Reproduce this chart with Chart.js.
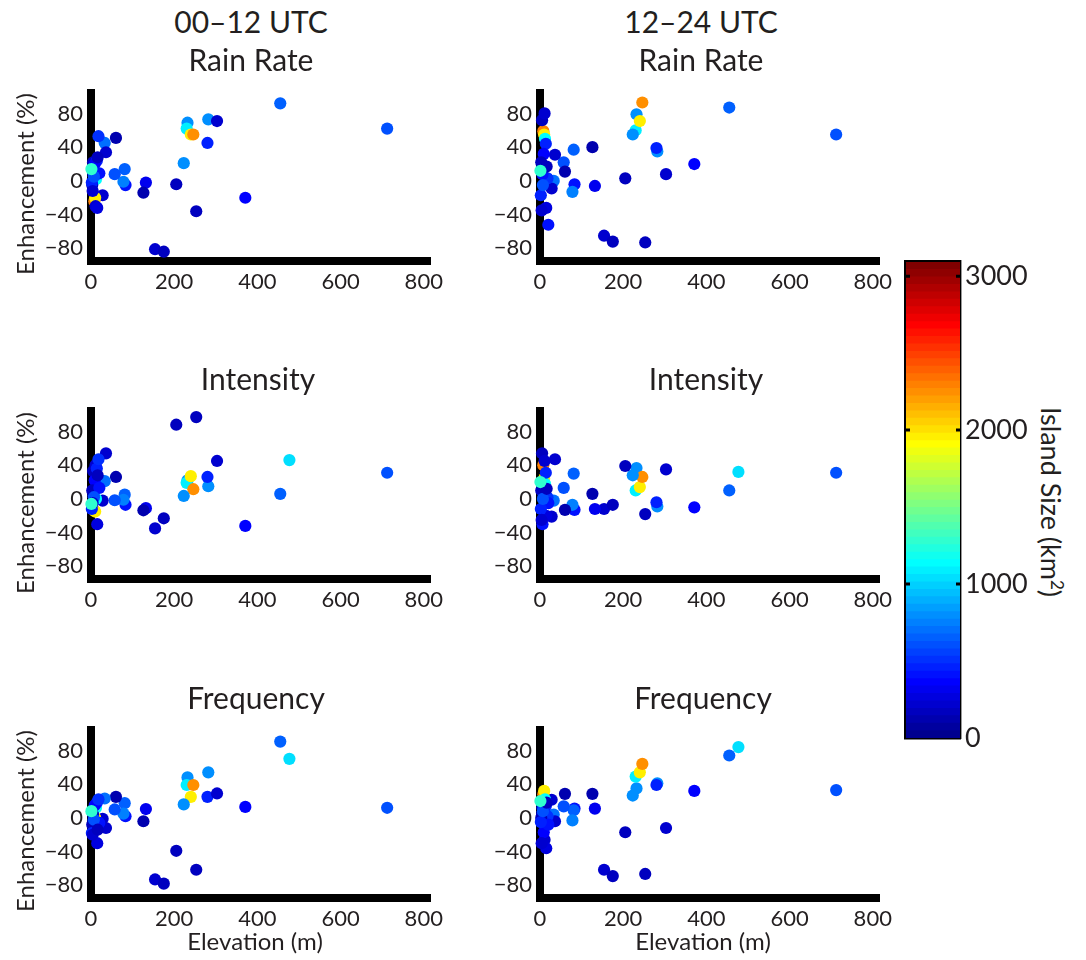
<!DOCTYPE html>
<html>
<head>
<meta charset="utf-8">
<script src="https://cdn.jsdelivr.net/npm/chart.js@4.4.1/dist/chart.umd.min.js"></script>
<style>
  body { margin: 0; background: #fff; }
  #page { position: relative; width: 1086px; height: 960px; overflow: hidden; font-family: Lato, "Open Sans", sans-serif; color: #231f20; }
  canvas { position: absolute; }
  .txt { position: absolute; white-space: nowrap; line-height: 1; }
  .title { font-size: 30px; transform: translateX(-50%); }
  .axis { font-size: 24px; transform: translateX(-50%); }
  .ylab { font-size: 24px; transform: translate(-50%, -50%) rotate(-90deg); }
  .cblab { font-size: 27px; transform: translate(-50%, -50%) rotate(90deg); }
  .cblab sup { font-size: 17px; }
</style>
</head>
<body>
<div id="page"></div>
<script>
// islands: elevation (m) and area (km2)
const islandElevation = [455, 477, 712, 232, 230, 240, 246, 282, 280, 303, 223, 205, 253, 371, 154, 175, 132, 126, 83, 81, 78, 57, 60, 33, 36, 28,
  8, 10, 12, 5, 11, 14, 9, 18, 6, 15, 3, 20, 2, 7, 4, 16, 1];
const islandSize = [650, 1060, 590, 820, 1090, 1945, 2255, 820, 470, 195, 790, 155, 155, 350, 195, 170, 335, 115, 430, 650, 760, 620, 115, 700, 230, 195,
  2300, 1950, 1150, 150, 200, 450, 380, 500, 400, 250, 180, 420, 450, 600, 220, 160, 1300];

// enhancement (%) per island, one list per panel
const rainRate0012 = [92, null, 62, 69, 62, 55, 55, 73, 45, 71, 21, -4, -36, -20, -81, -84, -2, -14, -5, 14, -1, 8, 51, 45, 34, -17,
  -24, -20, 2, 22, -30, 24, 20, 53, 8, -32, -5, 9, -2, 5, -12, 28, 14];
const rainRate1224 = [87, null, 55, 79, 60, 71, 93, 35, 39, 8, 55, 3, -73, 20, -65, -72, -6, 40, -4, 37, -13, 22, 11, 0, 31, -9,
  59, 55, 50, 72, 80, 44, 32, 3, 8, -32, 22, -52, -17, -5, -35, 17, 12];
const intensity0012 = [6, 46, 31, 22, 19, 27, 11.5, 15, 26, 45, 3.5, 88, 97, -32, -35, -23, -11, -13.5, -7, 5, -1, -1.6, 26, 21, 54, -2,
  -14, -15, 0, 33, 40, 36, 22, 47, 4, -30, 10, 13, -12, 2, -5, 28, -6];
const intensity1224 = [10, 32, 31, 36.5, 10, 14, 26, -9, -4, 35, 28, 39, -18, -10, -12, -7, -12, 6, -13, 30, -7, 13, -13, -2, 47, -21,
  40, 24, 18, 54, 45, 31, 5, 2, -30, -20, 10, -5, -12, 0, -25, 12, 20];
const frequency0012 = [90.5, 70, 12, 48, 39, 25, 39, 54, 25, 29, 16, -39, -61.5, 13, -73, -78, 10.5, -4, 2, 17.5, 5, 10, 25, 23, -12, -1,
  -10, 0, 12, 4, -12, 18, 15, 22, -3, -30, -8, -6, -18, -2, -20, -14, 8];
const frequency1224 = [74, 84, 33, 35, 49, 54, 64, 41, 39, -12, 26.5, -17, -66.5, 32, -61.5, -69, 11, 28.5, 11, 9, -3, 13.7, 28.5, 4, -4, 21.5,
  28, 32, 22, 5, -26, 14, -17, 2, 12, -36, 0, -8, -5, 8, -30, 18, 20];

const xTicks = [0, 200, 400, 600, 800];
const yTicks = [-80, -40, 0, 40, 80];
const sizeTicks = [0, 1000, 2000, 3000];
const sizeMax = 3092;

const ink = '#231f20';
const page = document.getElementById('page');

// MATLAB jet(64)
function jet(k) {
  const i = k + 1;
  const u = j => j <= 16 ? j / 16 : j <= 31 ? 1 : (48 - j) / 16;
  const r = i >= 25 ? u(i - 24) : 0;
  const g = i >= 9 && i <= 55 ? u(i - 8) : 0;
  const b = i <= 39 ? u(i + 8) : 0;
  return `rgb(${Math.round(r * 255)},${Math.round(g * 255)},${Math.round(b * 255)})`;
}
const sizeColor = s => jet(Math.min(63, Math.floor(s / sizeMax * 64)));

function addText(cls, html, left, top) {
  const d = document.createElement('div');
  d.className = 'txt ' + cls;
  d.innerHTML = html;
  d.style.left = left + 'px';
  d.style.top = top + 'px';
  page.appendChild(d);
}

function addCanvas(left, top, w, h) {
  const c = document.createElement('canvas');
  c.width = w; c.height = h;
  c.style.left = left + 'px';
  c.style.top = top + 'px';
  page.appendChild(c);
  return c;
}

// plot geometry
const colLeft = [91, 540];
const rowTop = [92, 410, 729];
const plotW = 339, plotH = 169;
const yAxisW = 91, xAxisH = 40, padTop = 20, padRight = 26;

const tickFont = { family: 'Lato', size: 22 };

function panel(values, col, row) {
  const idx = values.map((v, i) => i).filter(i => values[i] !== null);
  const points = idx.map(i => ({ x: islandElevation[i], y: values[i] }));
  const colors = idx.map(i => sizeColor(islandSize[i]));
  const canvas = addCanvas(colLeft[col] - yAxisW, rowTop[row] - padTop, yAxisW + plotW + padRight, padTop + plotH + xAxisH);
  new Chart(canvas.getContext('2d'), {
    type: 'scatter',
    data: {
      datasets: [{
        data: points,
        backgroundColor: colors,
        pointRadius: 6.1,
        pointHoverRadius: 6.1,
        pointBorderWidth: 0,
        clip: 6
      }]
    },
    options: {
      responsive: false,
      animation: false,
      events: [],
      layout: { padding: { top: padTop, right: padRight, left: 0, bottom: 0 } },
      plugins: { legend: { display: false }, tooltip: { enabled: false } },
      scales: {
        x: {
          type: 'linear', min: 0, max: 815,
          afterBuildTicks: s => { s.ticks = xTicks.map(v => ({ value: v })); },
          afterFit: s => { s.height = xAxisH; },
          grid: { display: false, drawTicks: false },
          border: { display: true, width: 8, color: '#000' },
          ticks: { color: ink, font: tickFont, padding: 8, maxRotation: 0, autoSkip: false }
        },
        y: {
          type: 'linear', min: -95, max: 104,
          afterBuildTicks: s => { s.ticks = yTicks.map(v => ({ value: v })); },
          afterFit: s => { s.width = yAxisW; },
          grid: { display: false, drawTicks: false },
          border: { display: true, width: 8, color: '#000' },
          ticks: { color: ink, font: tickFont, padding: 8, autoSkip: false, callback: v => v < 0 ? '\u2212' + Math.abs(v) : String(v) }
        }
      }
    }
  });
}

panel(rainRate0012, 0, 0);
panel(rainRate1224, 1, 0);
panel(intensity0012, 0, 1);
panel(intensity1224, 1, 1);
panel(frequency0012, 0, 2);
panel(frequency1224, 1, 2);

// titles
addText('title', '00\u201312 UTC', 251, 6);
addText('title', 'Rain Rate', 251, 44);
addText('title', '12\u201324 UTC', 701, 6);
addText('title', 'Rain Rate', 701, 44);
addText('title', 'Intensity', 258, 363);
addText('title', 'Intensity', 706, 363);
addText('title', 'Frequency', 256, 682);
addText('title', 'Frequency', 703, 682);
addText('axis', 'Elevation (m)', 255, 929);
addText('axis', 'Elevation (m)', 703, 929);
addText('ylab', 'Enhancement (%)', 25, 184);
addText('ylab', 'Enhancement (%)', 25, 503);
addText('ylab', 'Enhancement (%)', 25, 821);
addText('cblab', 'Island Size (km<sup>2</sup>)', 1052, 502);

// colour bar: one bar per jet level, tallest drawn first so each band shows
const cbCanvas = addCanvas(890, 240, 196, 520);
const levelDatasets = Array.from({ length: 64 }, (_, k) => ({
  data: [(k + 1) * sizeMax / 64],
  backgroundColor: jet(k),
  borderWidth: 0,
  barPercentage: 1,
  categoryPercentage: 1,
  grouped: false
}));
const innerTicks = {
  id: 'innerTicks',
  afterDraw(chart) {
    const { ctx, chartArea: a, scales: { y } } = chart;
    ctx.save();
    ctx.strokeStyle = '#000';
    ctx.lineWidth = 3;
    sizeTicks.slice(1).forEach(v => {
      const py = y.getPixelForValue(v);
      ctx.beginPath();
      ctx.moveTo(a.left, py); ctx.lineTo(a.left + 4, py);
      ctx.moveTo(a.right - 4, py); ctx.lineTo(a.right, py);
      ctx.stroke();
    });
    ctx.restore();
  }
};
const cbBorder = { display: true, width: 3.4, color: '#000' };
new Chart(cbCanvas.getContext('2d'), {
  type: 'bar',
  data: { labels: [''], datasets: levelDatasets },
  options: {
    responsive: false,
    animation: false,
    events: [],
    layout: { padding: 0 },
    plugins: { legend: { display: false }, tooltip: { enabled: false } },
    scales: {
      x: {
        position: 'bottom',
        afterFit: s => { s.height = 22; },
        grid: { display: false, drawTicks: false },
        border: cbBorder,
        ticks: { display: false }
      },
      x2: {
        type: 'category', position: 'top',
        afterFit: s => { s.height = 22; },
        grid: { display: false, drawTicks: false },
        border: cbBorder,
        ticks: { display: false }
      },
      y: {
        position: 'right', min: 0, max: sizeMax,
        afterBuildTicks: s => { s.ticks = sizeTicks.map(v => ({ value: v })); },
        afterFit: s => { s.width = 126; },
        grid: { display: false, drawTicks: false },
        border: cbBorder,
        ticks: { color: ink, font: { family: 'Lato', size: 27 }, padding: 5, autoSkip: false, callback: v => String(v) }
      },
      y2: {
        position: 'left', min: 0, max: sizeMax,
        afterFit: s => { s.width = 16; },
        grid: { display: false, drawTicks: false },
        border: cbBorder,
        ticks: { display: false }
      }
    }
  },
  plugins: [innerTicks]
});
</script>
</body>
</html>
